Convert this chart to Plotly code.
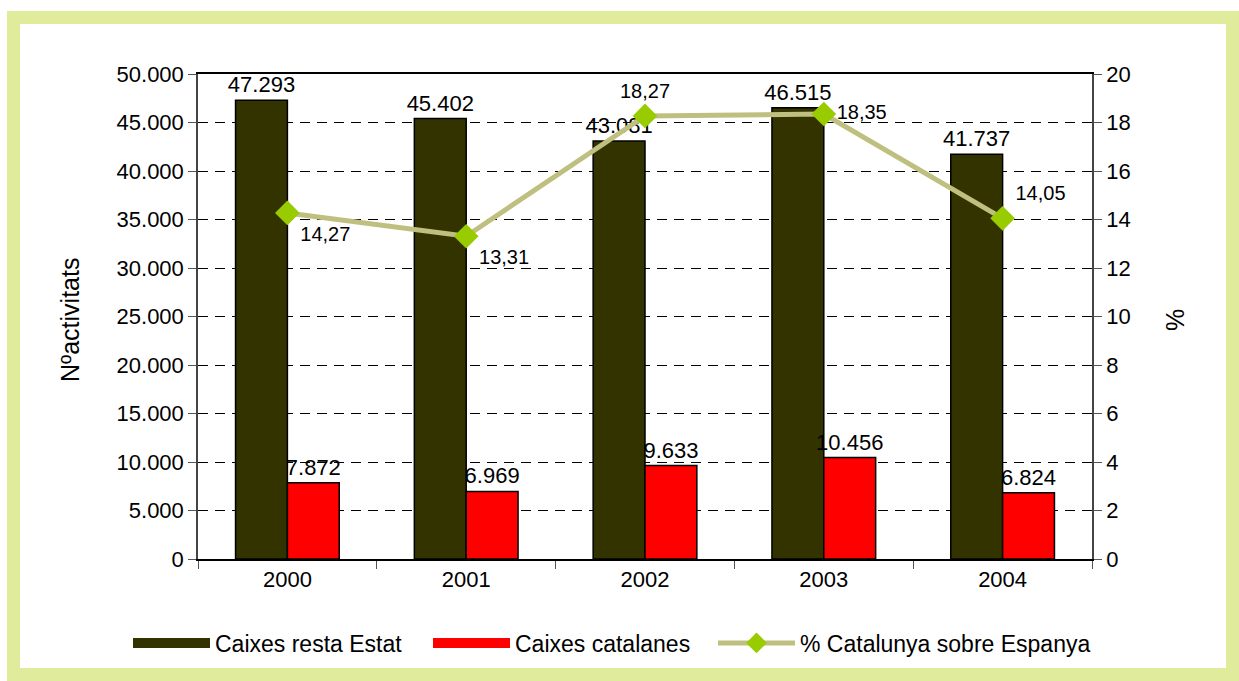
import plotly.graph_objects as go

years = ["2000", "2001", "2002", "2003", "2004"]
caixes_resta = [47293, 45402, 43081, 46515, 41737]
caixes_catalanes = [7872, 6969, 9633, 10456, 6824]
pct_catalunya = [14.27, 13.31, 18.27, 18.35, 14.05]
pct_text_pos = ["bottom right", "bottom right", "top center", "middle right", "top right"]

FONT = "Liberation Sans, Arial, sans-serif"
BORDER = "#e0eb9c"
DARK = "#333300"
RED = "#ff0000"
LINE = "#bfbf80"
DIAMOND = "#99cc00"

# plot area in pixels, used only to place the frame and axis titles
L, R, T, B = 198, 147, 74, 122
W, H = 1239, 681
pw, ph = W - L - R, H - T - B


def px_x(x):
    return (x - L) / pw


def px_y(y):
    return (H - B - y) / ph


def thousands(v):
    return f"{v:,}".replace(",", ".")


fig = go.Figure()
fig.add_trace(go.Bar(
    x=years, y=caixes_resta, name="Caixes resta Estat", showlegend=False,
    marker=dict(color=DARK, line=dict(color="black", width=1.5)),
    text=[thousands(v) for v in caixes_resta],
    textposition="outside", cliponaxis=False, constraintext="none",
    textfont=dict(size=22, color="black"),
))
fig.add_trace(go.Bar(
    x=years, y=caixes_catalanes, name="Caixes catalanes", showlegend=False,
    marker=dict(color=RED, line=dict(color="black", width=1.5)),
    text=[thousands(v) for v in caixes_catalanes],
    textposition="outside", cliponaxis=False, constraintext="none",
    textfont=dict(size=22, color="black"),
))
fig.add_trace(go.Scatter(
    x=years, y=pct_catalunya, name="% Catalunya sobre Espanya", yaxis="y2",
    mode="lines+markers+text", showlegend=False,
    line=dict(color=LINE, width=5),
    marker=dict(symbol="diamond", size=19, color=DIAMOND),
    text=[f"{v:.2f}".replace(".", ",") for v in pct_catalunya],
    textposition=pct_text_pos, cliponaxis=False,
    textfont=dict(size=20, color="black"),
))

# legend proxies, one legend each, for the wide swatches of the original
fig.add_trace(go.Scatter(x=[None], y=[None], mode="lines", name="Caixes resta Estat",
                         legend="legend", line=dict(color=DARK, width=17)))
fig.add_trace(go.Scatter(x=[None], y=[None], mode="lines", name="Caixes catalanes",
                         legend="legend2", line=dict(color=RED, width=17)))
fig.add_trace(go.Scatter(x=[None], y=[None], mode="lines+markers", name="% Catalunya sobre Espanya",
                         legend="legend3", line=dict(color=LINE, width=5),
                         marker=dict(symbol="diamond", size=16, color=DIAMOND)))

legend_style = dict(xref="container", yref="container", xanchor="left",
                    y=(H - 643) / H, yanchor="middle", font=dict(size=23),
                    itemwidth=77, bgcolor="rgba(0,0,0,0)")

fig.update_layout(
    width=W, height=H,
    margin=dict(l=L, r=R, t=T, b=B, autoexpand=False),
    paper_bgcolor="white", plot_bgcolor="white",
    font=dict(family=FONT, size=22, color="black"),
    separators=",.",
    barmode="group", bargap=0.42, bargroupgap=0,
    legend=dict(x=128 / W, **legend_style),
    legend2=dict(x=428 / W, **legend_style),
    legend3=dict(x=713 / W, **legend_style),
    xaxis=dict(showline=True, linecolor="black", linewidth=1.5, mirror=True,
               ticks="outside", tickson="boundaries", ticklen=8, tickcolor="#555",
               showgrid=False),
    yaxis=dict(range=[0, 50000], dtick=5000,
               tickformat=",d", showline=True, linecolor="#444", linewidth=1.5,
               ticks="outside", ticklen=8, tickcolor="#555",
               showgrid=True, gridcolor="black", griddash="10px,7px", gridwidth=1,
               zeroline=False),
    yaxis2=dict(overlaying="y", side="right",
                range=[0, 20], dtick=2, showline=True, linecolor="#444", linewidth=1.5,
                ticks="outside", ticklen=8, tickcolor="#555", showgrid=False, zeroline=False),
    annotations=[
        dict(text="Nºactivitats", xref="paper", yref="paper", x=px_x(70), y=px_y(320),
             textangle=-90, showarrow=False, font=dict(size=25),
             xanchor="center", yanchor="middle"),
        dict(text="%", xref="paper", yref="paper", x=px_x(1175), y=px_y(320),
             textangle=-90, showarrow=False, font=dict(size=25),
             xanchor="center", yanchor="middle"),
    ],
    shapes=[dict(type="rect", xref="paper", yref="paper", layer="below",
                 x0=px_x(13.5), x1=px_x(1232.5), y0=px_y(17.5), y1=px_y(674.5),
                 line=dict(color=BORDER, width=13))],
)

fig.write_html("out.html", config={"displayModeBar": False},
               post_script="document.body.style.margin='0';")
